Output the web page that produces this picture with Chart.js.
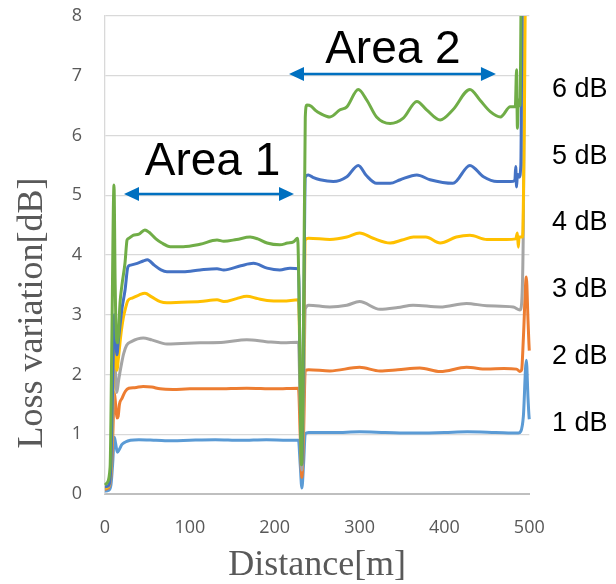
<!DOCTYPE html>
<html><head><meta charset="utf-8">
<script src="https://cdn.jsdelivr.net/npm/chart.js@4.4.1/dist/chart.umd.min.js"></script>
<style>html,body{margin:0;padding:0;background:#fff;}#wrap{position:relative;width:616px;height:584px;}</style>
</head><body><div id="wrap"><canvas id="c" width="616" height="584"></canvas></div>
<script>
// ---- data: [distance (m), loss variation (dB)] ----
const seriesNames = ['1 dB', '2 dB', '3 dB', '4 dB', '5 dB', '6 dB'];
const loss1dB = [[0,0.05],[4,0.06],[7,0.15],[9,0.5],[11,0.95],[12.5,0.85],[14.5,0.7],[17,0.75],[20,0.83],[24,0.87],[30,0.9],[40,0.91],[60,0.9],[80,0.89],[100,0.9],[130,0.91],[160,0.9],[190,0.91],[215,0.9],[228,0.9],[230,0.5],[232,0.1],[234,0.5],[236,1.01],[240,1.03],[270,1.03],[300,1.04],[330,1.03],[363,1.02],[400,1.03],[427,1.04],[460,1.03],[487,1.02],[490,1.05],[493,1.3],[496.5,2.24],[498.5,1.6],[500,1.25],[502,1.19]];
const loss2dB = [[0,0.08],[4,0.1],[7,0.3],[9,0.9],[11,1.7],[12.5,1.5],[14,1.27],[15.5,1.3],[17,1.5],[20,1.6],[24,1.72],[28,1.77],[35,1.78],[45,1.8],[55,1.79],[65,1.76],[80,1.75],[100,1.76],[130,1.76],[167,1.77],[200,1.76],[228,1.77],[230,1.0],[232,0.28],[234,1.0],[236,2.07],[240,2.08],[265,2.06],[300,2.12],[324,2.06],[345,2.08],[371,2.11],[395,2.05],[426,2.12],[450,2.09],[470,2.1],[485,2.09],[489,2.05],[491,2.08],[493,2.6],[496.5,3.63],[498.5,2.9],[500,2.4],[502,2.16]];
const loss3dB = [[0,0.1],[4,0.12],[7,0.4],[9,1.3],[11,2.3],[12.5,2.0],[14,1.7],[16,1.9],[19.6,2.19],[22,2.35],[25.5,2.49],[31,2.55],[45,2.61],[55,2.58],[73,2.51],[90,2.52],[112,2.53],[140,2.54],[167,2.58],[190,2.55],[210,2.53],[228,2.54],[230,1.5],[232,0.4],[234,1.5],[236,3.1],[240,3.16],[265,3.13],[285,3.16],[300,3.22],[324,3.09],[345,3.12],[363,3.16],[395,3.13],[426,3.19],[450,3.15],[481,3.13],[489,3.08],[491,3.2],[493,4.5],[495,9],[502,9]];
const loss4dB = [[0,0.1],[4,0.13],[7,0.45],[9,1.5],[11,2.7],[12.5,2.4],[14,2.07],[16,2.3],[19,2.7],[21.6,2.95],[24,3.1],[27,3.24],[32,3.28],[40,3.33],[47,3.36],[55,3.3],[65,3.22],[73,3.2],[90,3.21],[112,3.22],[132,3.25],[140,3.22],[155,3.27],[167,3.31],[180,3.27],[191,3.24],[210,3.23],[228,3.25],[230,2.0],[232,0.5],[234,2.0],[236,4.25],[240,4.28],[265,4.26],[285,4.3],[300,4.37],[316,4.28],[336,4.2],[350,4.25],[363.5,4.3],[378,4.3],[395,4.2],[414,4.3],[430,4.33],[450,4.26],[473,4.26],[484,4.27],[486,4.37],[487,4.13],[488,4.3],[492,4.3],[494,6],[496,9],[502,9]];
const loss5dB = [[0,0.12],[4,0.14],[7,0.5],[9,1.8],[11,3.0],[12.5,2.7],[14,2.33],[16,2.6],[20,3.1],[23.6,3.41],[27,3.8],[30,3.83],[38,3.86],[45,3.9],[50,3.92],[58,3.83],[66,3.75],[73,3.72],[92,3.72],[112,3.75],[132,3.77],[140,3.75],[160,3.82],[175,3.86],[191,3.78],[206,3.75],[218,3.78],[228,3.77],[230,2.0],[232,0.5],[234,2.5],[236,5.3],[239.6,5.34],[245,5.3],[253.5,5.26],[269,5.23],[285,5.31],[298.5,5.5],[308,5.33],[320,5.2],[336,5.2],[348,5.26],[367.5,5.34],[383,5.26],[410,5.2],[430,5.5],[446,5.31],[462,5.23],[478,5.23],[483,5.25],[484,5.48],[485,5.14],[486,5.35],[488,5.3],[490,5.5],[492,9],[502,9]];
const loss6dB = [[0,0.15],[2,0.18],[6,0.45],[8,2.5],[10.6,5.17],[12,3.5],[13.5,2.6],[15,2.53],[17.7,3.2],[20,3.5],[23.6,3.87],[26,4.25],[28,4.28],[33,4.33],[40,4.35],[47,4.42],[52,4.38],[60,4.27],[67,4.2],[77,4.14],[92,4.14],[112,4.18],[132,4.25],[140,4.23],[155,4.26],[171,4.3],[180,4.27],[191,4.2],[206,4.17],[215,4.2],[222,4.22],[227,4.28],[229,3.0],[231.5,0.49],[234,3.0],[236,6.3],[237.8,6.51],[243,6.49],[248,6.42],[253.5,6.37],[265,6.31],[277,6.43],[285,6.48],[298.5,6.77],[308.6,6.59],[320,6.31],[336,6.2],[351.5,6.29],[367.5,6.57],[379,6.43],[395,6.26],[410,6.43],[430,6.77],[442,6.59],[454,6.4],[466,6.31],[477.6,6.48],[483.5,6.48],[485,7.1],[486,6.12],[487,6.6],[489,6.5],[491,9],[502,9]];
const xTickValues = [0, 100, 200, 300, 400, 500];
const yTickValues = [0, 1, 2, 3, 4, 5, 6, 7, 8];
const areaNames = ['Area 1', 'Area 2'];
const areaSpans = [[22.4, 222.7], [216.8, 460.7]];   // arrow ends, m
const areaLevels = [5.02, 7.03];                      // arrow height, dB

// ---- styling / layout ----
const seriesColors = ['#5B9BD5', '#ED7D31', '#A5A5A5', '#FFC000', '#4472C4', '#70AD47'];
const seriesData = [loss1dB, loss2dB, loss3dB, loss4dB, loss5dB, loss6dB];
const areaTextPos = [[126.7, 5.34], [339.3, 7.21]];
const rightLabelX = 552, rightLabelY = [424, 357, 290, 223, 157, 90];

const datasets = seriesData.map((arr, i) => ({
  label: seriesNames[i],
  data: arr.map(p => ({x: p[0], y: p[1]})),
  borderColor: seriesColors[i],
  backgroundColor: seriesColors[i],
  borderWidth: 3,
  pointRadius: 0,
  fill: false,
  cubicInterpolationMode: 'monotone',
  order: 5 - i,
  clip: {left: 5, top: 0, right: 4, bottom: 6}
}));

const overlay = {
  id: 'overlay',
  afterDraw(chart) {
    const {ctx, scales: {x, y}} = chart;
    ctx.save();
    // arrows
    ctx.strokeStyle = '#0070C0'; ctx.fillStyle = '#0070C0'; ctx.lineWidth = 2.5;
    areaSpans.forEach((s, i) => {
      const x1 = x.getPixelForValue(s[0]), x2 = x.getPixelForValue(s[1]);
      const py = y.getPixelForValue(areaLevels[i]);
      const hl = 15, hw = 7;
      ctx.beginPath(); ctx.moveTo(x1 + hl - 2, py); ctx.lineTo(x2 - hl + 2, py); ctx.stroke();
      ctx.beginPath(); ctx.moveTo(x1, py); ctx.lineTo(x1 + hl, py - hw); ctx.lineTo(x1 + hl, py + hw); ctx.closePath(); ctx.fill();
      ctx.beginPath(); ctx.moveTo(x2, py); ctx.lineTo(x2 - hl, py - hw); ctx.lineTo(x2 - hl, py + hw); ctx.closePath(); ctx.fill();
    });
    // area labels
    ctx.fillStyle = '#000'; ctx.font = '46px "Liberation Sans", Arial, sans-serif';
    ctx.textAlign = 'center'; ctx.textBaseline = 'alphabetic';
    areaNames.forEach((t, i) => {
      ctx.fillText(t, x.getPixelForValue(areaTextPos[i][0]), y.getPixelForValue(areaTextPos[i][1]));
    });
    // right series labels
    ctx.font = '27px "Liberation Sans", Arial, sans-serif';
    ctx.textAlign = 'left'; ctx.textBaseline = 'middle';
    seriesNames.forEach((t, i) => ctx.fillText(t, rightLabelX, rightLabelY[i]));
    // y title
    ctx.fillStyle = '#595959'; ctx.font = '36px "Liberation Serif", "Times New Roman", serif';
    ctx.translate(33, 313); ctx.rotate(-Math.PI / 2);
    ctx.textAlign = 'center'; ctx.textBaseline = 'middle';
    ctx.fillText('Loss variation[dB]', 0, 0);
    ctx.restore();
  }
};

new Chart(document.getElementById('c'), {
  type: 'line',
  data: {datasets},
  options: {
    responsive: false, animation: false, devicePixelRatio: 1,
    layout: {padding: {left: 0, right: 86.7, top: 16, bottom: 0}},
    plugins: {legend: {display: false}, tooltip: {enabled: false}},
    scales: {
      x: {
        type: 'linear', min: 0, max: 500,
        afterBuildTicks: s => { s.ticks = xTickValues.map(v => ({value: v})); },
        afterFit: s => { s.height = 90; s.paddingLeft = 0; s.paddingRight = 0; },
        grid: {display: false, drawTicks: false},
        border: {display: true, color: '#BFBFBF', width: 2},
        ticks: {padding: 23, color: '#595959', font: {family: 'Open Sans', size: 18}},
        title: {display: true, text: 'Distance[m]', color: '#595959', padding: {top: 0, bottom: 0},
                font: {family: 'Liberation Serif', size: 36, lineHeight: 1}}
      },
      y: {
        type: 'linear', min: 0, max: 8,
        afterBuildTicks: s => { s.ticks = yTickValues.map(v => ({value: v})); },
        afterFit: s => { s.width = 105; s.paddingTop = 0; s.paddingBottom = 0; },
        grid: {color: '#D9D9D9', lineWidth: 1.3, drawTicks: false},
        border: {display: true, color: '#D9D9D9', width: 1.3},
        ticks: {padding: 23, color: '#595959', font: {family: 'Open Sans', size: 18}}
      }
    }
  },
  plugins: [overlay]
});
</script></body></html>
